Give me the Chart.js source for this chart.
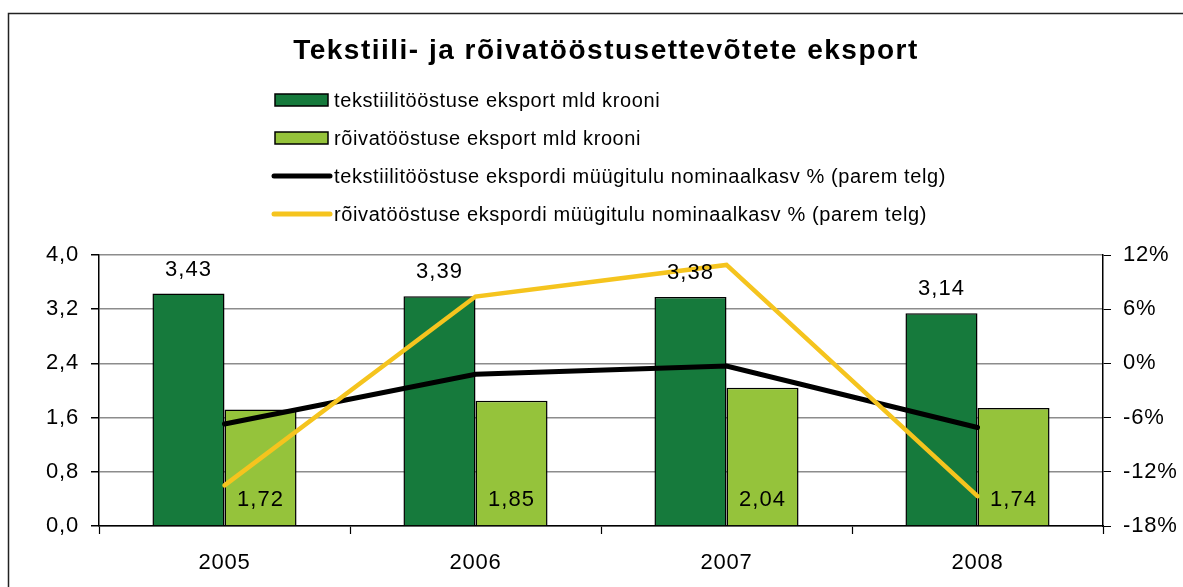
<!DOCTYPE html>
<html>
<head>
<meta charset="utf-8">
<script src="https://cdn.jsdelivr.net/npm/chart.js@4.4.1/dist/chart.umd.min.js"></script>
<style>
  html, body { margin: 0; padding: 0; background: #fff; overflow: hidden; }
  #wrap { position: relative; width: 1183px; height: 587px; }
</style>
</head>
<body>
<div id="wrap"><canvas id="chart-canvas" width="1183" height="587"></canvas></div>
<script>
// data
const years = ['2005', '2006', '2007', '2008'];
const textileExport = [3.43, 3.39, 3.38, 3.14];
const apparelExport = [1.72, 1.85, 2.04, 1.74];
const textileGrowth = [-6.7, -1.2, -0.3, -7.1];
const apparelGrowth = [-13.5, 7.4, 10.9, -14.7];

const titleText = 'Tekstiili- ja rõivatööstusettevõtete eksport';
const FONT = '"Liberation Sans", Arial, sans-serif';

const colors = {
  dark: '#167A3C',
  light: '#95C33B',
  black: '#000000',
  yellow: '#F5C41E',
  grid: '#8C8C8C',
};

const fmt = v => v.toFixed(2).replace('.', ',');

// the source text is a bit wider than Arial, so spread the letters slightly
const spacingPlugin = {
  id: 'spacing',
  beforeDraw(chart) {
    chart.ctx.letterSpacing = '0.8px';
  },
};

// title, legend, frame and value labels drawn by hand
const decorPlugin = {
  id: 'decor',
  afterDraw(chart) {
    const ctx = chart.ctx;
    ctx.save();

    // outer frame (runs off the right/bottom edge like the source)
    ctx.strokeStyle = '#222';
    ctx.lineWidth = 1.5;
    ctx.strokeRect(8.5, 13.5, 1300, 700);

    // title
    ctx.fillStyle = '#000';
    ctx.font = 'bold 28px ' + FONT;
    ctx.letterSpacing = '1.5px';
    ctx.textAlign = 'center';
    ctx.textBaseline = 'middle';
    ctx.fillText(titleText, 606, 51);

    // legend, one entry per row
    const rowsY = [100, 138, 176, 214];
    ctx.font = '20px ' + FONT;
    ctx.letterSpacing = '0.6px';
    ctx.textAlign = 'left';
    chart.data.datasets.forEach((ds, i) => {
      const y = rowsY[i];
      if (ds.type === 'line') {
        ctx.strokeStyle = ds.borderColor;
        ctx.lineWidth = 5;
        ctx.lineCap = 'round';
        ctx.beginPath();
        ctx.moveTo(274, y);
        ctx.lineTo(330, y);
        ctx.stroke();
      } else {
        ctx.fillStyle = ds.backgroundColor;
        ctx.fillRect(275, y - 6, 53, 12);
        ctx.strokeStyle = '#000';
        ctx.lineWidth = 1.5;
        ctx.strokeRect(275, y - 6, 53, 12);
      }
      ctx.fillStyle = '#000';
      ctx.fillText(ds.label, 334, y + 1);
    });

    // value labels on bars
    ctx.font = '22px ' + FONT;
    ctx.letterSpacing = '1px';
    ctx.textAlign = 'center';
    ctx.fillStyle = '#000';
    const yScale = chart.scales.y;
    chart.getDatasetMeta(0).data.forEach((bar, i) => {
      ctx.fillText(fmt(textileExport[i]), bar.x, bar.y - 24);
    });
    chart.getDatasetMeta(1).data.forEach((bar, i) => {
      ctx.fillText(fmt(apparelExport[i]), bar.x, yScale.bottom - 26);
    });

    ctx.restore();
    ctx.letterSpacing = '0px';
  },
};

const ctx = document.getElementById('chart-canvas');

new Chart(ctx, {
  type: 'bar',
  data: {
    labels: years,
    datasets: [
      {
        label: 'tekstiilitööstuse eksport mld krooni',
        data: textileExport,
        backgroundColor: colors.dark,
        borderColor: '#000',
        borderWidth: 1.5,
        yAxisID: 'y',
        order: 2,
      },
      {
        label: 'rõivatööstuse eksport mld krooni',
        data: apparelExport,
        backgroundColor: colors.light,
        borderColor: '#000',
        borderWidth: 1.5,
        yAxisID: 'y',
        order: 3,
      },
      {
        label: 'tekstiilitööstuse ekspordi müügitulu nominaalkasv % (parem telg)',
        data: textileGrowth,
        type: 'line',
        borderColor: colors.black,
        backgroundColor: colors.black,
        borderWidth: 5,
        borderCapStyle: 'round',
        pointRadius: 0,
        tension: 0,
        yAxisID: 'y1',
        order: 1,
      },
      {
        label: 'rõivatööstuse ekspordi müügitulu nominaalkasv % (parem telg)',
        data: apparelGrowth,
        type: 'line',
        borderColor: colors.yellow,
        backgroundColor: colors.yellow,
        borderWidth: 4.5,
        borderCapStyle: 'round',
        pointRadius: 0,
        tension: 0,
        yAxisID: 'y1',
        order: 0,
      },
    ],
  },
  options: {
    responsive: false,
    animation: false,
    devicePixelRatio: 1,
    layout: { padding: { top: 255, left: 0, right: 0, bottom: 0 } },
    datasets: {
      bar: { categoryPercentage: 0.574, barPercentage: 1 },
    },
    plugins: {
      legend: { display: false },
      title: { display: false },
      tooltip: { enabled: false },
    },
    scales: {
      x: {
        grid: {
          drawOnChartArea: false,
          offset: true,
          tickLength: 8,
          tickColor: '#000',
          tickWidth: 1.2,
        },
        border: { color: '#000', width: 1.5 },
        ticks: {
          font: { size: 22, family: FONT },
          color: '#000',
          padding: 16,
        },
        afterFit(scale) { scale.height = 61; },
      },
      y: {
        position: 'left',
        min: 0,
        max: 4,
        border: { color: '#000', width: 1.5 },
        grid: {
          color: colors.grid,
          lineWidth: 1.5,
          tickLength: 8,
          tickColor: '#000',
        },
        ticks: {
          stepSize: 0.8,
          font: { size: 22, family: FONT },
          color: '#000',
          padding: 12,
          callback: v => v.toFixed(1).replace('.', ','),
        },
        afterFit(scale) { scale.width = 99; },
      },
      y1: {
        position: 'right',
        min: -18,
        max: 12,
        border: { color: '#000', width: 1.5 },
        grid: {
          drawOnChartArea: false,
          tickLength: 8,
          tickColor: '#000',
        },
        ticks: {
          stepSize: 6,
          font: { size: 22, family: FONT },
          color: '#000',
          padding: 12,
          callback: v => v + '%',
        },
        afterFit(scale) { scale.width = 80; },
      },
    },
  },
  plugins: [spacingPlugin, decorPlugin],
});
</script>
</body>
</html>
